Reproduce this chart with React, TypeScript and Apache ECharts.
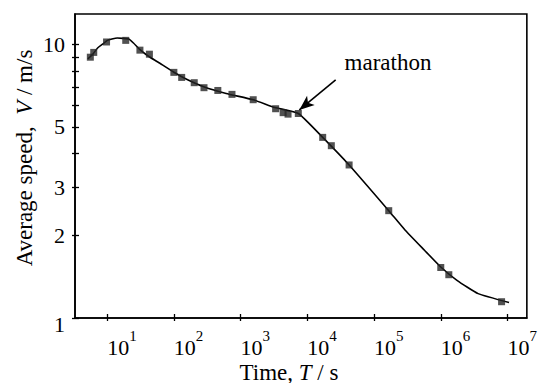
import { useEffect, useRef } from 'react';
import * as echarts from 'echarts';

// Record performances: duration T (s) and average speed V (m/s)
const timeS = [5.6, 6.3, 9.8, 19, 31, 43, 100, 131, 202, 283, 456, 743, 1545, 3350, 4340, 5140, 7330, 17000, 22900, 42300, 166000, 1.0e6, 1.32e6, 8.15e6];
const speed = [9.0, 9.37, 10.23, 10.37, 9.55, 9.23, 7.92, 7.59, 7.26, 6.96, 6.8, 6.58, 6.29, 5.83, 5.64, 5.57, 5.6, 4.58, 4.27, 3.63, 2.47, 1.53, 1.44, 1.147];

// Trend curve through the records
const fitTime = [5.13, 6.04, 7.2, 8.45, 10.1, 11.8, 14.2, 17.1, 21.1, 24.8, 31.1, 41.1, 57.6, 100, 158, 280, 608, 1545, 3270, 7330, 17000, 42300, 166000, 290800, 570000, 1.0e6, 1.75e6, 3.63e6, 1.055e7];
const fitSpeed = [8.87, 9.21, 9.72, 10.02, 10.37, 10.49, 10.58, 10.55, 10.49, 10.14, 9.59, 9.09, 8.64, 7.93, 7.46, 7.02, 6.63, 6.29, 5.89, 5.6, 4.58, 3.63, 2.47, 2.1, 1.77, 1.537, 1.374, 1.228, 1.14];

// Axis ticks and labels
const xTickExponents = [1, 2, 3, 4, 5, 6, 7];
const yTickValues = [1, 2, 3, 4, 5, 6, 7, 8, 9, 10];
const yLabelValues = [1, 2, 3, 5, 10];
const xRange = [3.3, 1.95e7];
const yRange = [1, 12.95];

// Annotation arrow (tail -> head) pointing at the marathon record
const arrowFrom = [26600, 7.43];
const arrowTo = [7590, 5.77];

const FONT = '"Liberation Serif", "Times New Roman", serif';
const lg = Math.log10;

export default function App() {
  const ref = useRef<HTMLDivElement>(null);

  useEffect(() => {
    if (!ref.current) return;
    const chart = echarts.init(ref.current, null, { renderer: 'svg' });

    const xMin = lg(xRange[0]);
    const xMax = lg(xRange[1]);
    const yMin = lg(yRange[0]);
    const yMax = lg(yRange[1]);
    const xTicks = xTickExponents.slice();
    const yTicks = yTickValues.map((v) => lg(v));
    const yLabels = yLabelValues.map((v) => lg(v));

    const baseX = {
      type: 'value' as const,
      min: xMin,
      max: xMax,
      position: 'bottom' as const,
      splitLine: { show: false },
    };
    const baseY = {
      type: 'value' as const,
      min: yMin,
      max: yMax,
      position: 'left' as const,
      splitLine: { show: false },
    };

    chart.setOption({
      animation: false,
      backgroundColor: '#fff',
      grid: {
        left: 75,
        right: 2,
        top: 14,
        bottom: 65,
        show: true,
        borderColor: '#000',
        borderWidth: 1.6,
        backgroundColor: 'transparent',
      },
      xAxis: [
        {
          ...baseX,
          axisLine: { show: true, lineStyle: { color: '#000', width: 1.6 } },
          axisTick: { show: true, inside: false, length: 3, customValues: xTicks, lineStyle: { color: '#000', width: 1.3 } },
          axisLabel: {
            show: true,
            customValues: xTicks,
            align: 'left',
            margin: 10,
            color: '#000',
            fontFamily: FONT,
            fontSize: 22,
            formatter: (v: number) => `{b|10}{s|${Math.round(v)}}`,
            rich: {
              b: { fontFamily: FONT, fontSize: 22, color: '#000', lineHeight: 30, verticalAlign: 'bottom' },
              s: { fontFamily: FONT, fontSize: 15, color: '#000', lineHeight: 15, verticalAlign: 'top' },
            },
          },
        },
        {
          ...baseX,
          axisLine: { show: false },
          axisTick: { show: true, inside: true, length: 4, customValues: xTicks, lineStyle: { color: '#000', width: 1.3 } },
          axisLabel: { show: false },
        },
      ],
      yAxis: [
        {
          ...baseY,
          axisLine: { show: true, lineStyle: { color: '#000', width: 1.6 } },
          axisTick: { show: true, inside: false, length: 3, customValues: yTicks, lineStyle: { color: '#000', width: 1.3 } },
          axisLabel: {
            show: true,
            customValues: yLabels,
            margin: 10,
            color: '#000',
            fontFamily: FONT,
            fontSize: 22,
            formatter: (v: number) => {
              const n = Math.round(Math.pow(10, v));
              return n === 1 ? `{lo|${n}}` : `${n}`;
            },
            rich: {
              lo: { fontFamily: FONT, fontSize: 22, color: '#000', padding: [12, 0, 0, 0] },
            },
          },
        },
        {
          ...baseY,
          axisLine: { show: false },
          axisTick: { show: true, inside: true, length: 4, customValues: yTicks, lineStyle: { color: '#000', width: 1.3 } },
          axisLabel: { show: false },
        },
      ],
      series: [
        {
          type: 'line',
          xAxisIndex: 0,
          yAxisIndex: 0,
          data: fitTime.map((t, i) => [lg(t), lg(fitSpeed[i])]),
          smooth: 0.15,
          showSymbol: false,
          symbol: 'none',
          lineStyle: { color: '#000', width: 1.6 },
          z: 3,
          markLine: {
            silent: true,
            symbol: ['none', 'arrow'],
            symbolSize: [9, 15],
            lineStyle: { color: '#000', width: 1.6, type: 'solid' },
            label: { show: false },
            data: [
              [
                { coord: [lg(arrowFrom[0]), lg(arrowFrom[1])] },
                { coord: [lg(arrowTo[0]), lg(arrowTo[1])] },
              ],
            ],
          },
        },
        {
          type: 'scatter',
          xAxisIndex: 0,
          yAxisIndex: 0,
          data: timeS.map((t, i) => [lg(t), lg(speed[i])]),
          symbol: 'rect',
          symbolSize: 7,
          itemStyle: { color: '#262626' },
          z: 4,
        },
      ],
      graphic: [
        {
          type: 'text',
          x: 388,
          y: 62,
          style: {
            text: 'marathon',
            fontFamily: FONT,
            fontSize: 23,
            fill: '#000',
            align: 'center',
            verticalAlign: 'middle',
          },
        },
        {
          type: 'text',
          x: 289,
          y: 372,
          style: {
            text: 'Time, {i|T} / s',
            fontFamily: FONT,
            fontSize: 23,
            fill: '#000',
            align: 'center',
            verticalAlign: 'middle',
            rich: {
              i: { fontFamily: FONT, fontSize: 23, fontStyle: 'italic', fill: '#000' },
            },
          },
        },
        {
          type: 'text',
          x: 24,
          y: 158,
          rotation: Math.PI / 2,
          style: {
            text: 'Average speed,  {i|V} / m/s',
            fontFamily: FONT,
            fontSize: 23,
            fill: '#000',
            align: 'center',
            verticalAlign: 'middle',
            rich: {
              i: { fontFamily: FONT, fontSize: 23, fontStyle: 'italic', fill: '#000' },
            },
          },
        },
      ],
    });

    return () => chart.dispose();
  }, []);

  return (
    <div
      ref={ref}
      style={{ position: 'fixed', left: 0, top: 0, width: 540, height: 383 }}
    />
  );
}
